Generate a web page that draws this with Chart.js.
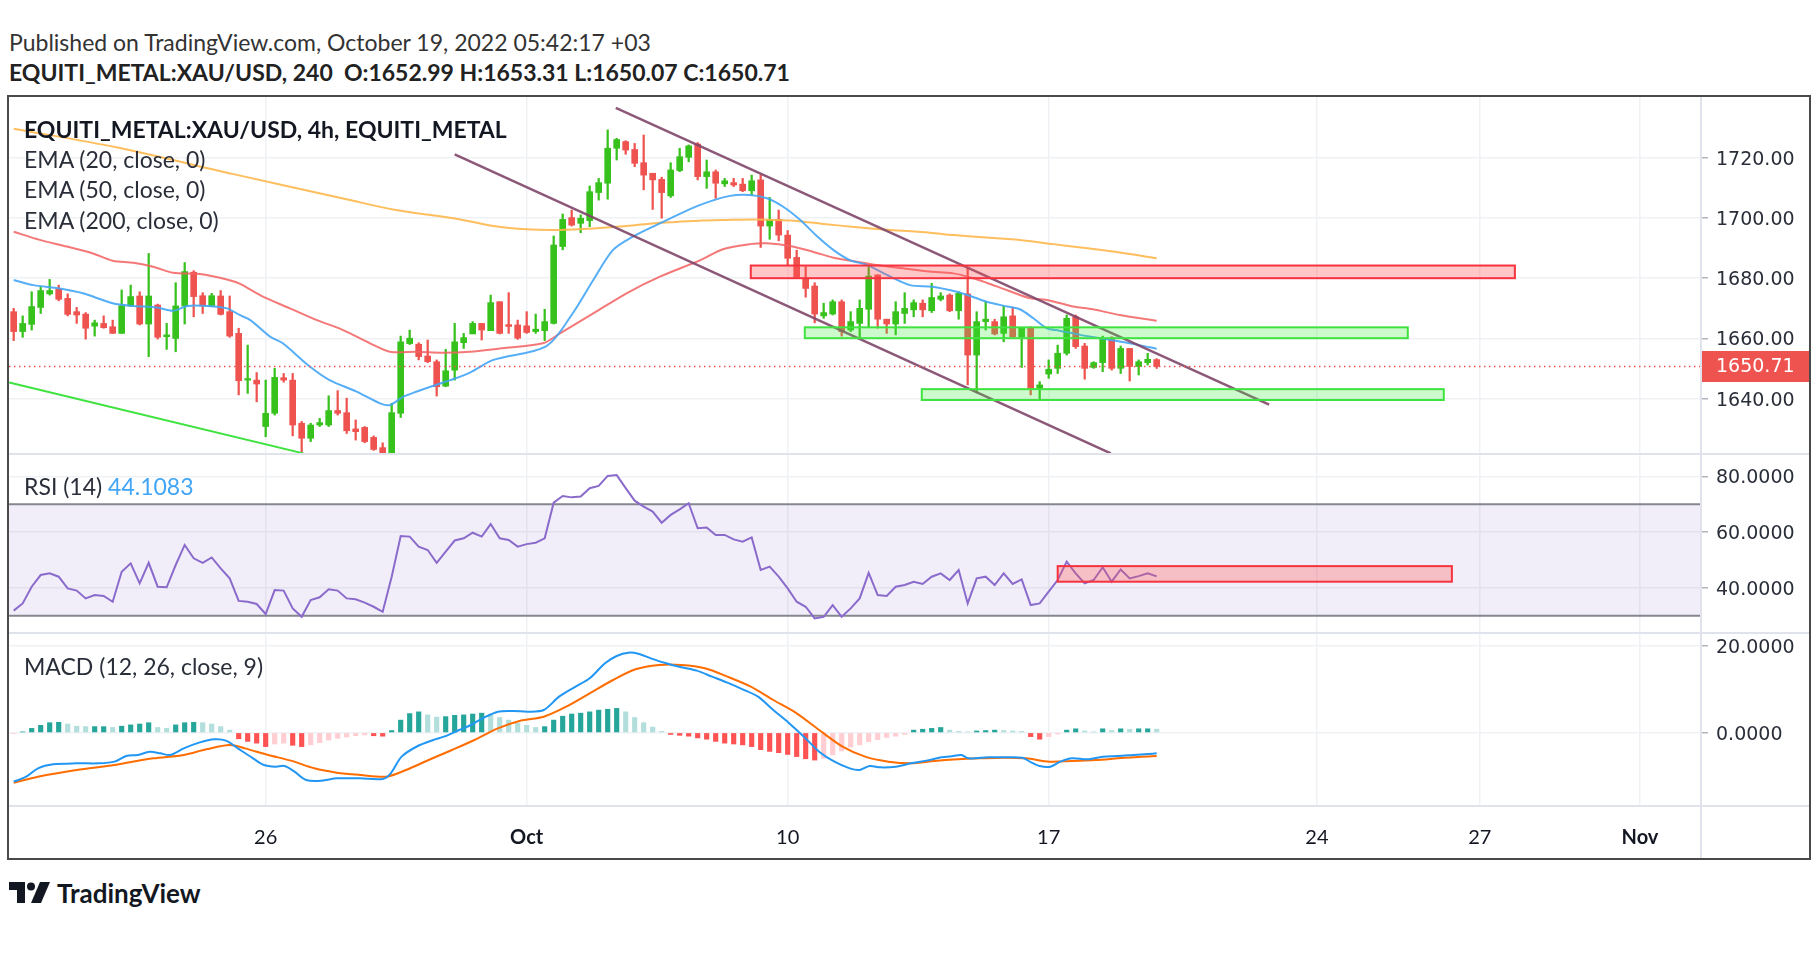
<!DOCTYPE html>
<html>
<head>
<meta charset="utf-8">
<script src="https://cdn.jsdelivr.net/npm/chart.js@4.4.1/dist/chart.umd.min.js"></script>
<style>
  body { margin:0; width:1818px; height:972px; background:#fff; position:relative; overflow:hidden; font-family: Lato, 'Noto Sans', sans-serif; color:#131722; }
  .txt { position:absolute; white-space:nowrap; line-height:28px; }
  #frame { position:absolute; left:7px; top:95px; width:1800px; height:761px; border:2px solid #4a4a4a; }
  #frame canvas { position:absolute; left:0; }
  .sep { position:absolute; background:#e0e3eb; }
  .leg { font-size:23px; color:#2a2e39; }
</style>
</head>
<body>
<div class="txt" style="left:9px;top:28px;font-size:23px;color:#333">Published on TradingView.com, October 19, 2022 05:42:17 +03</div>
<div class="txt" id="ohlc" style="left:9px;top:58px;font-size:23px;font-weight:700;color:#222"></div>

<div id="frame">
  <canvas id="cPrice" width="1800" height="357" style="top:0"></canvas>
  <canvas id="cRsi" width="1800" height="179" style="top:357px"></canvas>
  <canvas id="cMacd" width="1800" height="225" style="top:536px"></canvas>
  <div class="sep" style="left:0;top:356px;width:1800px;height:2px"></div>
  <div class="sep" style="left:0;top:535px;width:1800px;height:2px"></div>
  <div class="sep" style="left:0;top:708px;width:1800px;height:2px"></div>
  <div class="sep" style="left:1691px;top:0;width:2px;height:761px"></div>
</div>

<div class="txt leg" style="left:24px;top:115px;font-weight:700;color:#131722">EQUITI_METAL:XAU/USD, 4h, EQUITI_METAL</div>
<div class="txt leg" style="left:24px;top:145px">EMA (20, close, 0)</div>
<div class="txt leg" style="left:24px;top:175px">EMA (50, close, 0)</div>
<div class="txt leg" style="left:24px;top:206px">EMA (200, close, 0)</div>
<div class="txt leg" style="left:24px;top:472px">RSI (14) <span id="rsiVal" style="color:#42a5f5"></span></div>
<div class="txt leg" style="left:24px;top:652px">MACD (12, 26, close, 9)</div>

<div style="position:absolute;left:9px;top:882px">
  <svg width="42" height="22" viewBox="0 0 42 22">
    <path d="M0 0 H16 V21 H8 V8 H0 Z" fill="#131722"/>
    <circle cx="22" cy="4.5" r="4" fill="#131722"/>
    <path d="M31 0 H41 L32 21 H22 Z" fill="#131722"/>
  </svg>
</div>
<div class="txt" style="left:57px;top:878px;font-size:26px;font-weight:700;line-height:30px;color:#131722">TradingView</div>

<script>
// 4h bars, index 0 = first bar of Mon Sep 26; 29 bars per week
const firstBar = -28;
const opens  = [1668.9,1662.3,1664.7,1670.3,1674.8,1676.4,1673.3,1668.9,1668.1,1664.1,1665.0,1663.9,1661.7,1670.8,1674.1,1664.8,1671.1,1660.6,1660.0,1670.8,1682.0,1674.2,1670.8,1674.1,1668.9,1661.7,1646.2,1646.2,
  1630.8,1635.2,1647.0,1646.2,1631.9,1626.9,1631.3,1631.3,1636.1,1635.4,1630.0,1630.5,1627.2,1623.8,1619.0,1635.2,1658.3,1658.1,1654.2,1652.3,1644.2,1649.5,1658.6,
  1661.5,1665.0,1662.6,1672.2,1664.6,1664.5,1664.2,1662.3,1662.6,1665.0,1690.5,1700.1,1698.2,1699.1,1708.4,1711.5,1723.1,1725.3,1722.7,1718.3,1714.8,1712.8,1707.3,1715.7,1720.1,
  1724.5,1713.7,1715.3,1711.3,1711.7,1711.2,1709.0,1712.6,1697.3,1699.5,1694.3,1686.9,1679.9,1677.4,1667.5,1668.1,1672.2,1662.8,1665.0,1669.7,1681.1,1666.4,1664.8,1668.3,1669.5,
  1671.7,1669.2,1673.0,1674.4,1669.2,1674.8,1654.5,1665.6,1665.6,1661.7,1667.5,1660.6,1663.4,1643.5,1648.2,1650.1,1655.1,1667.2,1657.5,1650.4,1652.0,1660.1,1650.1,1656.7,1650.7,1652.0,1652.99];
const highs  = [1670.0,1667.5,1675.5,1677.2,1679.6,1677.7,1674.8,1670.3,1668.6,1666.1,1667.5,1666.1,1676.1,1677.7,1675.5,1688.2,1671.4,1665.0,1678.5,1685.2,1682.5,1675.2,1675.0,1675.9,1674.1,1663.4,1657.8,1648.7,
  1646.2,1650.1,1648.4,1648.4,1632.5,1631.9,1633.5,1641.0,1642.7,1640.2,1633.0,1630.8,1627.7,1625.4,1638.5,1660.8,1662.8,1658.6,1659.5,1652.9,1656.4,1665.0,1661.7,
  1665.6,1665.0,1674.4,1672.2,1675.2,1666.1,1668.9,1668.1,1669.7,1694.0,1701.3,1702.6,1701.0,1710.6,1713.1,1729.2,1726.4,1725.6,1724.7,1727.5,1714.8,1713.5,1718.3,1723.1,1724.2,
  1725.0,1719.2,1715.9,1713.1,1713.1,1713.1,1714.2,1714.2,1706.8,1702.6,1695.8,1689.3,1683.8,1678.5,1671.7,1672.8,1672.8,1668.9,1672.8,1684.4,1681.1,1666.4,1672.2,1675.2,1672.8,
  1672.8,1678.3,1675.2,1674.8,1675.5,1683.3,1668.9,1672.2,1666.4,1670.8,1670.3,1663.4,1663.9,1645.7,1652.9,1657.8,1667.8,1667.8,1658.4,1652.3,1660.8,1660.6,1657.5,1656.7,1652.9,1655.1,1653.31];
const lows   = [1659.3,1660.4,1662.8,1668.3,1674.4,1672.5,1667.5,1665.0,1659.8,1660.8,1663.4,1661.7,1661.7,1670.6,1664.5,1654.0,1659.8,1656.4,1655.6,1664.8,1667.2,1668.3,1670.6,1667.8,1660.4,1641.3,1641.8,1639.0,
  1627.4,1634.6,1645.5,1627.7,1620.5,1625.8,1630.8,1630.8,1634.6,1628.5,1626.3,1625.4,1622.9,1619.5,1615.0,1633.8,1658.0,1652.9,1652.0,1640.9,1644.0,1646.2,1656.7,
  1661.7,1659.5,1662.6,1661.5,1661.7,1659.7,1661.7,1661.7,1659.3,1664.8,1689.4,1697.3,1695.1,1697.1,1705.9,1706.2,1719.2,1721.1,1717.0,1709.3,1702.8,1699.9,1706.8,1715.3,1718.6,
  1712.6,1709.8,1706.5,1710.4,1710.4,1708.7,1707.6,1690.2,1692.9,1692.4,1684.4,1680.0,1673.7,1665.2,1666.7,1667.8,1660.8,1662.3,1660.1,1663.9,1663.4,1661.7,1661.2,1665.0,1667.2,
  1667.2,1668.6,1672.5,1668.9,1666.4,1644.6,1642.0,1662.8,1661.2,1658.9,1660.4,1650.4,1641.3,1639.6,1646.8,1648.4,1654.5,1656.7,1646.5,1650.1,1649.0,1649.5,1648.4,1645.9,1647.9,1651.2,1650.07];
const closes = [1662.3,1665.0,1670.6,1675.9,1675.9,1673.0,1668.0,1667.8,1663.4,1665.2,1663.6,1661.7,1670.9,1673.9,1664.8,1674.1,1660.4,1661.2,1670.8,1682.2,1673.9,1670.8,1674.2,1668.0,1660.8,1646.0,1646.6,1644.9,
  1635.2,1647.1,1646.2,1631.3,1626.9,1631.3,1632.1,1636.1,1635.2,1629.4,1629.1,1625.8,1623.2,1621.5,1635.4,1658.9,1660.1,1654.0,1652.3,1644.0,1649.3,1658.9,1660.3,
  1665.0,1662.8,1671.9,1661.7,1664.0,1660.1,1662.0,1663.1,1665.6,1691.0,1699.5,1697.6,1699.9,1708.7,1711.7,1723.1,1726.0,1722.5,1718.1,1714.2,1712.6,1708.4,1715.9,1720.3,1723.9,
  1713.7,1715.3,1711.5,1712.3,1710.9,1709.0,1712.3,1697.3,1699.5,1694.3,1686.6,1680.3,1676.6,1668.1,1668.6,1672.2,1662.3,1665.6,1670.0,1680.7,1666.4,1664.8,1668.9,1670.0,1671.9,
  1669.5,1673.6,1674.1,1669.2,1675.0,1654.5,1665.6,1666.4,1661.5,1667.2,1660.6,1663.4,1643.5,1644.6,1649.8,1655.1,1666.7,1657.3,1650.1,1652.0,1660.1,1650.1,1656.7,1650.7,1652.3,1653.1,1650.71];
const lastPrice = 1650.71;

// EMA lines: [bar index, price]
const ema20 = [[-28,1679.4],[-25.8,1677.7],[-22.9,1676.6],[-20.3,1675.0],[-17,1671.7],[-14.7,1670.8],[-12.1,1670.3],[-10.3,1669.2],[-8.7,1670.8],[-6.5,1670.8],[-4.3,1670.0],[-2.9,1667.8],[-1.7,1666.1],[0.5,1660.6],[1.9,1658.4],[4.9,1650.7],[7.1,1646.2],[10.1,1642.4],[12.7,1638.5],[13.8,1637.9],[15.3,1640.7],[16.8,1642.4],[18.3,1644.0],[20.5,1646.2],[22.7,1648.7],[25.3,1652.9],[31.2,1657.5],[34.1,1668.3],[36.4,1679.4],[38.6,1689.4],[40.8,1693.8],[43.8,1698.2],[48.3,1704.3],[51.6,1707.3],[53.8,1707.6],[55.7,1706.5],[57.5,1703.7],[59.4,1699.3],[61.3,1693.8],[63.1,1689.3],[64.9,1686.0],[66.8,1684.4],[69.4,1680.5],[71.6,1677.7],[74.1,1677.2],[76.8,1675.5],[78.3,1674.1],[80.1,1672.2],[82.4,1670.6],[83.8,1669.7],[85.3,1666.7],[86.8,1663.4],[88.2,1662.6],[90.5,1661.2],[92.7,1660.1],[94.9,1659.0],[97.1,1657.8],[99,1656.6]];
const ema50 = [[-28,1695.4],[-25.1,1692.7],[-22.1,1690.5],[-19.2,1688.2],[-17,1685.8],[-14.7,1685.1],[-12.5,1683.8],[-10.3,1681.8],[-7.3,1681.4],[-4.3,1679.6],[-2.9,1678.2],[-0.3,1673.9],[2.7,1670.0],[5.7,1666.1],[8.6,1662.8],[11.6,1658.4],[13.8,1655.6],[16.8,1655.6],[19.7,1655.3],[22.7,1655.6],[26,1656.7],[30.8,1658.4],[32.7,1661.7],[36.4,1668.3],[40.1,1675.0],[43.8,1680.5],[48.3,1686.0],[50.8,1689.6],[53.8,1691.3],[55.7,1691.6],[58.3,1690.7],[60.8,1688.8],[63.1,1686.8],[65.7,1685.5],[67.9,1684.4],[70.8,1683.3],[73.8,1682.2],[76.4,1681.6],[78.6,1680.0],[80.1,1678.5],[82.4,1676.0],[85,1673.3],[86.8,1672.8],[89.7,1670.6],[91.9,1669.7],[94.9,1667.8],[99,1665.9]];
const ema200 = [[-28,1729.6],[-16.6,1723.4],[-3.7,1714.6],[9.1,1706.1],[14.3,1702.7],[21.6,1699.5],[25.3,1697.3],[29,1696.2],[32.7,1696.0],[36.4,1696.5],[40.1,1697.3],[43.8,1698.4],[48.3,1699.1],[50.8,1699.3],[54.6,1699.5],[58.3,1699.1],[62,1698.0],[65.7,1696.9],[69.4,1696.0],[73.8,1695.1],[76.4,1694.3],[80.1,1693.5],[83.8,1692.7],[87.5,1691.3],[91.3,1689.9],[94.9,1688.5],[99,1686.6]];

// drawings: trend lines [bar, price] pairs, zones
const greenTrend = [[-28.5,1645.4],[4.2,1621.9]];
const channelTop = [[38.9,1736.5],[111.5,1638.1]];
const channelBottom = [[21.0,1721.1],[93.9,1621.9]];
const zoneKind   = ['resistance','support','support'];
const zoneStart  = [53.9, 59.9, 72.9];
const zoneEnd    = [138.8, 126.9, 130.9];
const zoneTop    = [1684.2, 1663.7, 1643.2];
const zoneBottom = [1680.0, 1660.1, 1639.6];

const rsi = [31.8,34.4,40.4,44.6,45.2,44.0,39.8,39.0,36.2,37.4,37.1,35.0,45.8,48.8,41.6,49.0,40.4,40.2,48.2,55.4,50.6,49.0,50.9,47.0,43.4,35.3,35.0,34.2,
  30.6,39.2,39.0,32.6,29.6,35.6,36.6,39.5,39.0,36.2,35.9,34.7,33.2,31.4,44.0,58.6,58.4,54.8,53.6,49.0,53.0,57.0,57.8,
  59.8,58.4,62.9,57.8,57.2,54.8,55.7,56.2,57.8,70.6,73.0,72.5,72.8,75.8,76.6,80.2,80.5,75.8,71.3,69.2,67.4,63.4,66.2,68.2,70.4,
  61.4,61.7,59.0,59.0,57.4,56.6,58.1,46.4,47.6,44.0,39.8,35.0,33.2,29.0,29.6,33.8,29.6,32.6,36.2,45.4,37.4,37.1,40.4,41.0,42.2,
  41.4,44.0,45.2,42.8,46.4,34.4,43.4,44.0,41.0,45.2,41.4,43.0,33.8,34.4,38.6,42.8,49.4,45.2,41.6,42.8,47.4,42.2,46.6,43.4,44.2,45.2,44.1083];
const rsiUpper = 70, rsiLower = 30;
const rsiZone = [88.0, 131.8, 47.8, 42.2]; // from bar, to bar, top, bottom

const macdHist = [-0.2,0.2,1.0,1.7,2.3,2.4,2.0,1.5,1.4,1.4,1.4,1.2,1.5,1.8,2.0,2.3,1.2,1.0,1.8,2.3,2.4,2.3,2.0,1.4,0.6,-1.4,-2.0,-2.4,
  -3.2,-2.6,-2.4,-2.9,-3.2,-2.8,-2.3,-1.7,-1.3,-1.0,-0.7,-0.5,-0.7,-0.8,0.5,2.9,4.4,4.8,4.1,3.6,3.7,4.0,4.1,
  4.3,4.5,4.2,3.5,2.9,2.2,1.7,1.2,1.4,2.9,3.8,4.3,4.5,4.8,5.2,5.4,5.6,4.8,3.5,2.3,1.3,0.3,-0.4,-0.6,-0.8,
  -1.2,-1.5,-2.0,-2.4,-2.6,-2.8,-3.2,-3.9,-4.3,-4.6,-5.0,-5.5,-6.0,-6.3,-5.9,-5.1,-4.2,-3.3,-2.8,-2.1,-1.6,-1.1,-0.8,-0.4,0.6,
  0.8,1.0,1.2,0.6,0.3,0.2,0.4,0.5,0.6,0.5,0.4,0.3,-0.9,-1.5,-0.9,-0.3,0.6,0.9,0.4,0.2,0.9,0.5,0.9,0.8,0.9,0.9,0.8];
const macdLine = [[-28,-11.27],[-26.6,-10.12],[-25.3,-8.20],[-23.6,-7.28],[-21,-7.05],[-18.5,-7.05],[-16.8,-6.66],[-15.5,-5.36],[-14.2,-5.13],[-12.9,-4.36],[-11.7,-4.75],[-10.6,-5.13],[-9.1,-3.60],[-7.4,-2.29],[-5.7,-1.52],[-4.4,-1.83],[-3.1,-3.60],[-1.4,-5.90],[-0.2,-7.43],[1.1,-7.82],[2.1,-7.66],[3.2,-8.97],[4.5,-10.88],[6.2,-11.04],[7.9,-10.50],[10.5,-10.50],[13,-10.65],[13.9,-9.35],[15.1,-5.51],[16.9,-3.06],[18.6,-1.68],[19.8,-0.91],[21.5,0.62],[22.8,1.77],[24.1,3.31],[25.8,4.84],[27.5,5.00],[29.2,4.84],[30.9,5.23],[32.6,8.30],[34.3,10.44],[36,12.52],[37.7,15.97],[39,17.66],[40.3,18.42],[41.5,18.12],[42.8,17.12],[44.5,15.97],[46.2,15.05],[47.9,14.28],[49.6,12.90],[51.3,11.52],[53,9.98],[54.7,8.30],[56.4,5.23],[58.1,2.31],[59.8,-0.91],[61.5,-4.36],[63.2,-6.66],[64.9,-8.20],[66,-8.58],[67.1,-7.66],[68.3,-7.97],[70,-7.82],[71.7,-7.05],[73.4,-6.43],[75.1,-5.67],[76.4,-5.36],[77.3,-5.13],[78.1,-5.90],[80.3,-5.67],[82,-5.67],[84.1,-5.74],[84.9,-6.66],[86,-7.66],[87.2,-7.82],[88.3,-6.66],[89.6,-5.90],[91.3,-6.13],[93,-5.51],[94.7,-5.36],[96.4,-5.13],[98.1,-4.90],[99,-4.75]];
const signalLine = [[-28,-11.50],[-25.3,-10.12],[-21,-8.58],[-16.8,-7.43],[-12.5,-5.90],[-9.1,-5.13],[-6.6,-3.83],[-4,-2.83],[-2.3,-3.60],[0.3,-5.13],[2.8,-6.43],[5.4,-8.20],[7.9,-9.20],[10.5,-9.73],[13.4,-10.12],[15.6,-8.58],[18.1,-6.28],[20.7,-3.98],[23.2,-1.68],[25.8,1.01],[28.3,2.77],[30.9,3.69],[33.4,5.99],[36,9.06],[38.6,12.13],[41.1,14.59],[43.7,15.58],[46.2,15.58],[48.8,14.82],[51.3,12.90],[53.9,10.60],[56.4,7.53],[59,4.46],[61.5,0.62],[64.1,-3.21],[66.6,-5.51],[69.2,-6.66],[71.7,-7.05],[74.3,-6.51],[76.9,-6.13],[79.4,-5.90],[82,-5.74],[84.5,-5.90],[87.1,-6.66],[89.6,-6.51],[92.2,-6.28],[94.7,-5.90],[97.3,-5.51],[99,-5.36]];

const tickIdx = [0, 29, 58, 87, 116.8, 134.9, 152.7];
const tickLabels = ['26', 'Oct', '10', '17', '24', '27', 'Nov'];
const priceTicks = [1640, 1660, 1680, 1700, 1720];
const rsiTicks = [40, 60, 80];
const macdTicks = [0, 20];

const X_MIN = -28.52, X_MAX = 159.48;
const UP = '#37c11d', DOWN = '#ef5350';
const GRID = '#f0f1f4';

const last = opens.length - 1;
document.getElementById('ohlc').innerHTML = 'EQUITI_METAL:XAU/USD, 240&nbsp; O:' + opens[last].toFixed(2) +
  ' H:' + highs[last].toFixed(2) + ' L:' + lows[last].toFixed(2) + ' C:' + closes[last].toFixed(2);
document.getElementById('rsiVal').textContent = rsi[last].toFixed(4);

function xScale(showLabels) {
  return {
    type: 'linear', min: X_MIN, max: X_MAX, offset: false,
    grid: { color: GRID, drawTicks: false, offset: false, lineWidth: 1.5 },
    border: { display: false },
    ticks: {
      display: showLabels, autoSkip: false, maxRotation: 0, padding: 20, color: '#131722',
      font: c => ({ family: 'Lato', size: 20, weight: /[a-z]/.test(tickLabels[c.index] || '') ? 'bold' : 'normal' }),
      callback: v => tickLabels[tickIdx.indexOf(v)]
    },
    afterBuildTicks: s => { s.ticks = tickIdx.map(v => ({ value: v })); },
    afterFit: s => { s.height = showLabels ? 52 : 0; s.paddingLeft = 0; s.paddingRight = 0; }
  };
}

function yScale(min, max, ticks, digits) {
  return {
    position: 'right', min: min, max: max,
    grid: { color: GRID, tickColor: '#b2b5be', tickLength: 7, lineWidth: 1.5 },
    border: { display: false },
    ticks: { padding: 8, labelOffset: 2, color: '#2a2e39', font: { family: 'DejaVu Sans', size: 19 }, callback: v => v.toFixed(digits) },
    afterBuildTicks: s => { s.ticks = ticks.map(v => ({ value: v })); },
    afterFit: s => { s.width = 108; s.paddingTop = 0; s.paddingBottom = 0; }
  };
}

function baseOptions(scales) {
  return {
    responsive: false, animation: false, devicePixelRatio: 1, events: [],
    layout: { padding: 0 },
    plugins: { legend: { display: false }, tooltip: { enabled: false } },
    scales: scales
  };
}

const toPts = arr => arr.map(p => ({ x: p[0], y: p[1] }));
const lineDs = (pts, color, w, tension) => ({ type: 'line', data: toPts(pts), borderColor: color, borderWidth: w,
  pointRadius: 0, tension: tension, fill: false, clip: 0 });
const candleColor = c => closes[c.dataIndex] >= opens[c.dataIndex] ? UP : DOWN;

// zones + last price line
const priceOverlay = {
  id: 'priceOverlay',
  afterDatasetsDraw(chart) {
    const { ctx, chartArea: a, scales: { x, y } } = chart;
    ctx.save();
    ctx.beginPath(); ctx.rect(a.left, a.top, a.right - a.left, a.bottom - a.top); ctx.clip();
    zoneStart.forEach((s, k) => {
      const x0 = x.getPixelForValue(s), x1 = x.getPixelForValue(zoneEnd[k]);
      const y0 = y.getPixelForValue(zoneTop[k]), y1 = y.getPixelForValue(zoneBottom[k]);
      const red = zoneKind[k] === 'resistance';
      ctx.fillStyle = red ? 'rgba(255,82,82,0.32)' : 'rgba(60,235,60,0.26)';
      ctx.fillRect(x0, y0, x1 - x0, y1 - y0);
      ctx.strokeStyle = red ? '#f7323f' : '#3fe33f';
      ctx.lineWidth = 2;
      ctx.strokeRect(x0, y0, x1 - x0, y1 - y0);
    });
    const py = y.getPixelForValue(lastPrice);
    ctx.strokeStyle = DOWN; ctx.lineWidth = 1.5; ctx.setLineDash([1.5, 3.5]);
    ctx.beginPath(); ctx.moveTo(a.left, py); ctx.lineTo(a.right, py); ctx.stroke();
    ctx.restore();
    ctx.save();
    ctx.fillStyle = DOWN;
    ctx.fillRect(a.right, py - 15.5, chart.width - a.right, 31);
    ctx.fillStyle = '#fff'; ctx.font = '19px "DejaVu Sans"'; ctx.textBaseline = 'middle';
    ctx.fillText(lastPrice.toFixed(2), a.right + 15, py + 1);
    ctx.restore();
  }
};

new Chart(document.getElementById('cPrice'), {
  type: 'bar',
  data: {
    datasets: [
      lineDs(channelTop, 'rgba(128,70,105,0.9)', 2.5, 0),
      lineDs(channelBottom, 'rgba(128,70,105,0.9)', 2.5, 0),
      lineDs(greenTrend, '#3fe33f', 2, 0),
      lineDs(ema20, 'rgba(66,165,245,0.9)', 2, 0.3),
      lineDs(ema50, 'rgba(242,96,96,0.85)', 2, 0.3),
      lineDs(ema200, 'rgba(255,183,77,0.9)', 2, 0.3),
      { type: 'bar', data: opens.map((o, i) => ({ x: firstBar + i, y: [o, closes[i]] })), backgroundColor: candleColor,
        barThickness: 6, minBarLength: 1.5, grouped: false, clip: 0 },
      { type: 'bar', data: opens.map((o, i) => ({ x: firstBar + i, y: [lows[i], highs[i]] })), backgroundColor: candleColor,
        barThickness: 1.6, grouped: false, clip: 0 }
    ]
  },
  options: baseOptions({ x: xScale(false), y: yScale(1621.69, 1740.10, priceTicks, 2) }),
  plugins: [priceOverlay]
});

const rsiOverlay = {
  id: 'rsiOverlay',
  beforeDatasetsDraw(chart) {
    const { ctx, chartArea: a, scales: { y } } = chart;
    const yU = y.getPixelForValue(rsiUpper), yL = y.getPixelForValue(rsiLower);
    ctx.save();
    ctx.fillStyle = 'rgba(126,87,194,0.1)';
    ctx.fillRect(a.left, yU, a.right - a.left, yL - yU);
    ctx.strokeStyle = '#85878f'; ctx.lineWidth = 2;
    [yU, yL].forEach(v => { ctx.beginPath(); ctx.moveTo(a.left, v); ctx.lineTo(a.right, v); ctx.stroke(); });
    ctx.restore();
  },
  afterDatasetsDraw(chart) {
    const { ctx, scales: { x, y } } = chart;
    const x0 = x.getPixelForValue(rsiZone[0]), x1 = x.getPixelForValue(rsiZone[1]);
    const y0 = y.getPixelForValue(rsiZone[2]), y1 = y.getPixelForValue(rsiZone[3]);
    ctx.save();
    ctx.fillStyle = 'rgba(255,82,82,0.3)';
    ctx.fillRect(x0, y0, x1 - x0, y1 - y0);
    ctx.strokeStyle = '#f7323f'; ctx.lineWidth = 2;
    ctx.strokeRect(x0, y0, x1 - x0, y1 - y0);
    ctx.restore();
  }
};

new Chart(document.getElementById('cRsi'), {
  type: 'line',
  data: { datasets: [{ data: rsi.map((v, i) => ({ x: firstBar + i, y: v })), borderColor: '#8a6bcb', borderWidth: 2,
    pointRadius: 0, tension: 0, fill: false }] },
  options: baseOptions({ x: xScale(false), y: yScale(23.77, 88.08, rsiTicks, 4) }),
  plugins: [rsiOverlay]
});

const histColor = c => {
  const i = c.dataIndex, v = macdHist[i], p = i > 0 ? macdHist[i - 1] : v;
  if (v >= 0) return v >= p ? '#26a69a' : '#b2dfdb';
  return v < p ? '#ff5252' : '#ffcdd2';
};

new Chart(document.getElementById('cMacd'), {
  type: 'bar',
  data: {
    datasets: [
      lineDs(macdLine, '#2196f3', 2, 0.3),
      lineDs(signalLine, '#ff6d00', 2, 0.3),
      { type: 'bar', data: macdHist.map((v, i) => ({ x: firstBar + i, y: v })), backgroundColor: histColor,
        barThickness: 4.5, grouped: false, clip: 0 }
    ]
  },
  options: baseOptions({ x: xScale(true), y: yScale(-16.87, 22.95, macdTicks, 4) })
});
</script>
</body>
</html>
